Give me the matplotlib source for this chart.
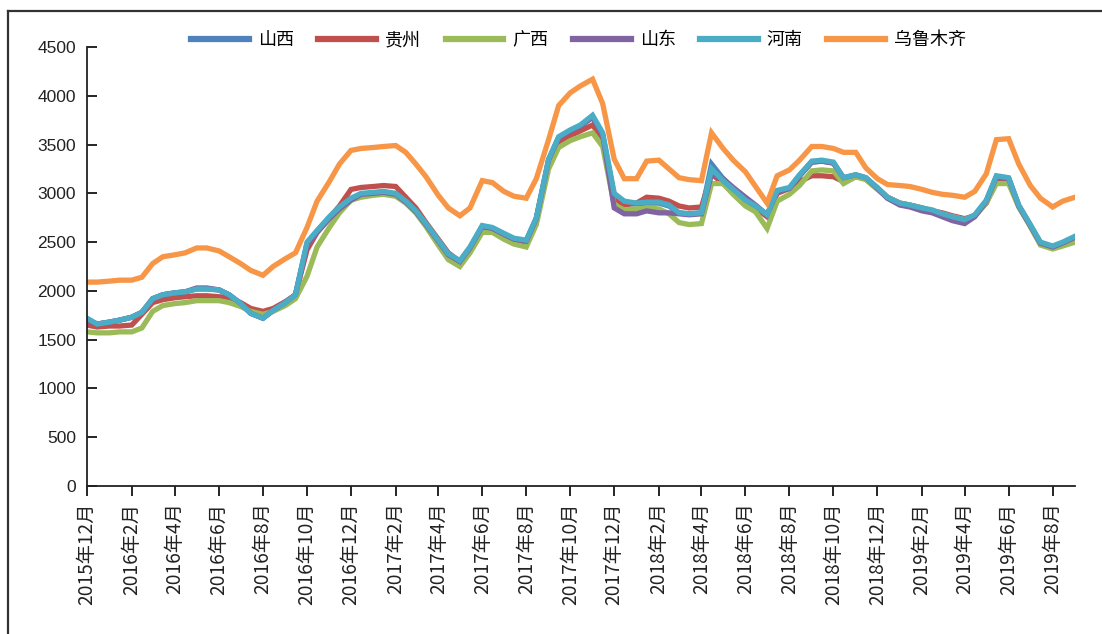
import pandas as pd
import matplotlib
matplotlib.use("Agg")
import matplotlib.pyplot as plt
from matplotlib.lines import Line2D

# semi-monthly dates, 2015-12-01 .. 2019-09-01
dates = pd.date_range("2015-12-01", periods=91, freq="SMS")

shanxi = [1700, 1660, 1680, 1700, 1730, 1780, 1920, 1960, 1980, 1990,
          2020, 2020, 2010, 1960, 1870, 1770, 1720, 1800, 1880, 1960,
          2480, 2610, 2750, 2850, 2940, 2990, 3000, 3010, 2990, 2910,
          2810, 2680, 2510, 2370, 2300, 2440, 2660, 2640, 2580, 2530,
          2510, 2740, 3340, 3570, 3640, 3690, 3780, 3600, 2980, 2900,
          2890, 2900, 2900, 2870, 2800, 2790, 2800, 3300, 3150, 3050,
          2940, 2870, 2770, 3020, 3050, 3180, 3320, 3330, 3310, 3150,
          3180, 3150, 3050, 2950, 2890, 2870, 2840, 2820, 2780, 2750,
          2720, 2770, 2920, 3170, 3150, 2870, 2670, 2490, 2450, 2490,
          2550]
guizhou = [1650, 1630, 1640, 1640, 1650, 1760, 1880, 1910, 1930, 1940,
           1950, 1950, 1940, 1930, 1880, 1820, 1790, 1820, 1890, 1960,
           2420, 2600, 2750, 2870, 3040, 3060, 3070, 3080, 3070, 2960,
           2850, 2700, 2530, 2390, 2300, 2440, 2650, 2640, 2570, 2520,
           2500, 2740, 3300, 3520, 3590, 3640, 3700, 3560, 2950, 2880,
           2900, 2960, 2950, 2920, 2870, 2850, 2860, 3200, 3100, 3010,
           2900, 2850, 2760, 3000, 3050, 3120, 3180, 3180, 3170, 3120,
           3170, 3150, 3050, 2960, 2900, 2880, 2850, 2820, 2800, 2770,
           2740, 2770, 2900, 3150, 3150, 2870, 2670, 2490, 2450, 2490,
           2540]
guangxi = [1580, 1570, 1570, 1580, 1580, 1620, 1790, 1850, 1870, 1880,
           1900, 1900, 1900, 1880, 1840, 1790, 1760, 1790, 1850, 1920,
           2150, 2450, 2650, 2800, 2930, 2960, 2980, 2990, 2970, 2900,
           2800, 2660, 2470, 2320, 2250, 2390, 2600, 2600, 2530, 2480,
           2450, 2680, 3250, 3470, 3540, 3580, 3620, 3480, 2880, 2830,
           2840, 2850, 2840, 2790, 2700, 2680, 2690, 3100, 3100, 2990,
           2870, 2810, 2640, 2920, 2990, 3080, 3230, 3240, 3230, 3100,
           3170, 3140, 3040, 2960, 2900, 2880, 2850, 2820, 2790, 2760,
           2730, 2770, 2900, 3100, 3100, 2860, 2660, 2470, 2430, 2460,
           2500]
shandong = [1700, 1660, 1680, 1700, 1730, 1780, 1920, 1960, 1980, 1990,
            2030, 2030, 2010, 1960, 1870, 1770, 1720, 1800, 1880, 1960,
            2470, 2600, 2740, 2840, 2930, 2990, 3000, 3010, 2990, 2910,
            2810, 2680, 2510, 2370, 2300, 2440, 2660, 2640, 2580, 2530,
            2510, 2740, 3340, 3570, 3640, 3690, 3780, 3600, 2850, 2790,
            2790, 2820, 2800, 2800, 2790, 2780, 2790, 3200, 3150, 3060,
            2960, 2880, 2780, 3020, 3050, 3180, 3320, 3330, 3310, 3160,
            3190, 3160, 3050, 2950, 2880, 2860, 2820, 2800, 2760, 2720,
            2690, 2760, 2920, 3170, 3150, 2870, 2670, 2490, 2450, 2490,
            2550]
henan = [1720, 1660, 1680, 1700, 1730, 1780, 1920, 1960, 1980, 1990,
         2020, 2020, 2010, 1960, 1870, 1770, 1720, 1800, 1880, 1960,
         2500, 2620, 2760, 2860, 2950, 3000, 3010, 3020, 3000, 2920,
         2820, 2690, 2520, 2380, 2310, 2450, 2670, 2650, 2590, 2540,
         2520, 2750, 3350, 3580, 3650, 3700, 3800, 3620, 3000, 2920,
         2900, 2910, 2910, 2880, 2800, 2790, 2800, 3250, 3130, 3040,
         2930, 2870, 2780, 3030, 3060, 3190, 3330, 3340, 3320, 3160,
         3190, 3160, 3060, 2960, 2900, 2880, 2850, 2830, 2790, 2760,
         2730, 2780, 2930, 3180, 3160, 2880, 2680, 2500, 2460, 2500,
         2560]
urumqi = [2090, 2090, 2100, 2110, 2110, 2140, 2280, 2350, 2370, 2390,
          2440, 2440, 2410, 2350, 2280, 2210, 2160, 2250, 2330, 2390,
          2650, 2920, 3120, 3300, 3440, 3460, 3470, 3480, 3490, 3420,
          3300, 3170, 2980, 2850, 2770, 2850, 3130, 3110, 3020, 2970,
          2950, 3150, 3550, 3900, 4030, 4100, 4170, 3920, 3350, 3150,
          3150, 3330, 3340, 3250, 3160, 3140, 3130, 3620, 3460, 3340,
          3220, 3070, 2900, 3180, 3240, 3340, 3480, 3480, 3460, 3420,
          3420, 3260, 3150, 3090, 3080, 3070, 3040, 3010, 2990, 2980,
          2960, 3020, 3200, 3550, 3560, 3300, 3080, 2950, 2860, 2920,
          2960]

names = ["山西", "贵州", "广西", "山东", "河南", "乌鲁木齐"]
series = [shanxi, guizhou, guangxi, shandong, henan, urumqi]
colors = ["#4F81BD", "#C0504D", "#9BBB59", "#8064A2", "#4BACC6", "#F79646"]

tick_dates = pd.date_range("2015-12-01", "2019-08-01", freq="2MS")
tick_labels = [f"{d.year}年{d.month}月" for d in tick_dates]

fig = plt.figure(figsize=(11.02, 6.34), dpi=100)
ax = fig.add_axes([0.079, 0.2334, 0.8965, 0.6925])

for name, vals, c in zip(names, series, colors):
    ax.plot(dates, vals, color=c, lw=3.8, label=name, solid_joinstyle="miter")

ax.set_xlim(dates[0], dates[-1])
ax.set_ylim(0, 4500)
ax.set_yticks(range(0, 4501, 500))
ax.set_yticklabels([str(v) for v in range(0, 4501, 500)],
                   family="Liberation Sans", fontsize=12.5, color="#222222")
ax.set_xticks(tick_dates)
ax.set_xticklabels(tick_labels, rotation=90, family=["Noto Sans CJK SC", "DejaVu Sans"],
                   fontsize=13.8, color="#222222")
ax.tick_params(axis="y", direction="in", length=7, width=1.2, pad=8)
ax.tick_params(axis="x", direction="out", length=7, width=1.2, pad=5)
for s in ["top", "right"]:
    ax.spines[s].set_visible(False)
for s in ["left", "bottom"]:
    ax.spines[s].set_linewidth(1.3)
    ax.spines[s].set_color("#222222")

leg = fig.legend(loc="center", bbox_to_anchor=(0.525, 0.937), ncol=6, frameon=False,
                 prop={"family": ["Noto Sans CJK SC", "DejaVu Sans"], "size": 13},
                 handlelength=3.2, handletextpad=0.5, columnspacing=1.35)
for h in leg.get_lines():
    h.set_linewidth(4.5)

# outer frame of the picture
fig.add_artist(Line2D([8 / 1102, 8 / 1102], [0, 1 - 11 / 634], transform=fig.transFigure,
                      color="#333333", lw=1.6))
fig.add_artist(Line2D([8 / 1102, 1], [1 - 11 / 634, 1 - 11 / 634], transform=fig.transFigure,
                      color="#333333", lw=1.6))

fig.savefig("out.png", dpi=100)
